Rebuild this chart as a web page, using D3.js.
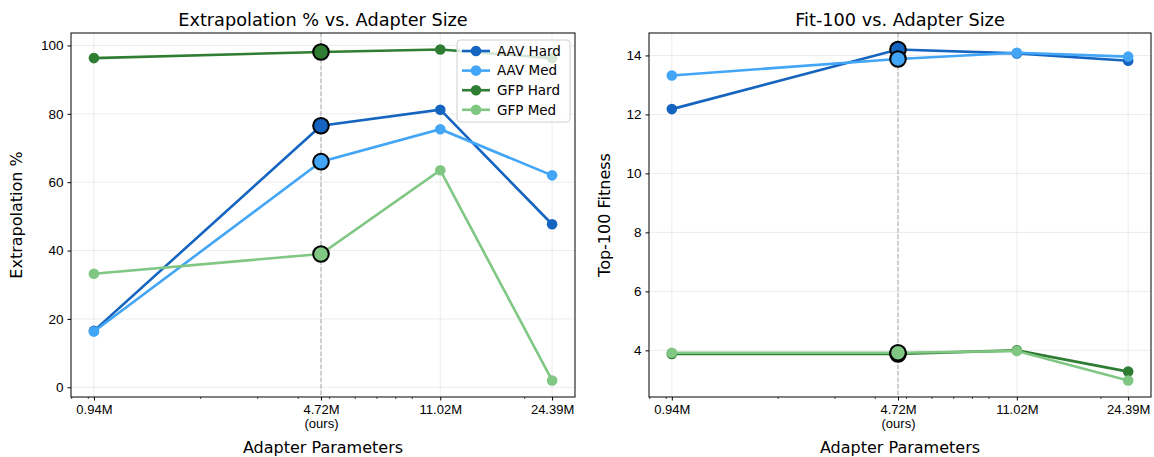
<!DOCTYPE html>
<html>
<head>
<meta charset="utf-8">
<script src="https://cdn.jsdelivr.net/npm/d3@7"></script>
<style>
  body { margin: 0; background: #fff; }
  svg { font-family: "DejaVu Sans", sans-serif; }
  .tick text { fill: #000; }
</style>
</head>
<body>
<script>
// adapter sizes (millions of params)
var sizes = [0.94, 4.72, 11.02, 24.39];
var sizeLabels = ["0.94M", "4.72M", "11.02M", "24.39M"];
var oursIndex = 1;

var seriesNames = ["AAV Hard", "AAV Med", "GFP Hard", "GFP Med"];
var seriesColors = ["#1565c0", "#42a5f5", "#2e7d32", "#81c784"];

// Extrapolation %
var extrapAAVHard = [16.5, 76.5, 81.2, 47.7];
var extrapAAVMed  = [16.3, 66.0, 75.5, 62.0];
var extrapGFPHard = [96.3, 98.1, 98.8, 96.3];
var extrapGFPMed  = [33.2, 39.0, 63.5, 2.0];

// Top-100 fitness
var fitAAVHard = [12.18, 14.20, 14.07, 13.82];
var fitAAVMed  = [13.32, 13.88, 14.09, 13.96];
var fitGFPHard = [3.88, 3.88, 4.00, 3.28];
var fitGFPMed  = [3.92, 3.92, 3.98, 2.98];

var extrapTicks = [0, 20, 40, 60, 80, 100];
var fitTicks = [4, 6, 8, 10, 12, 14];
var minorTicks = [0.8, 0.9, 2, 3, 4, 5, 6, 7, 8, 9, 20];

var W = 1154, H = 457, plotTop = 33, plotBottom = 397;

var svg = d3.select("body").append("svg")
    .attr("width", W)
    .attr("height", H);

function panel(opts) {
  var g = svg.append("g");
  var left = opts.left, right = opts.right;

  var lx0 = Math.log10(sizes[0]), lx1 = Math.log10(sizes[sizes.length - 1]);
  var mx = (lx1 - lx0) * 0.05;
  var x = d3.scaleLog()
      .domain([Math.pow(10, lx0 - mx), Math.pow(10, lx1 + mx)])
      .range([left, right]);

  var all = d3.merge(opts.series);
  var ymin = d3.min(all), ymax = d3.max(all), my = (ymax - ymin) * 0.05;
  var y = d3.scaleLinear()
      .domain([ymin - my, ymax + my])
      .range([plotBottom, plotTop]);

  // grid
  g.append("g").selectAll("line").data(opts.yticks).enter().append("line")
      .attr("x1", left).attr("x2", right)
      .attr("y1", function(d){ return y(d); }).attr("y2", function(d){ return y(d); })
      .attr("stroke", "#b0b0b0").attr("stroke-opacity", 0.3).attr("stroke-width", 0.8);
  g.append("g").selectAll("line").data(sizes).enter().append("line")
      .attr("y1", plotTop).attr("y2", plotBottom)
      .attr("x1", function(d){ return x(d); }).attr("x2", function(d){ return x(d); })
      .attr("stroke", "#b0b0b0").attr("stroke-opacity", 0.3).attr("stroke-width", 0.8);

  // "ours" marker line
  g.append("line")
      .attr("x1", x(sizes[oursIndex])).attr("x2", x(sizes[oursIndex]))
      .attr("y1", plotTop).attr("y2", plotBottom)
      .attr("stroke", "#808080").attr("stroke-opacity", 0.5)
      .attr("stroke-width", 1.2).attr("stroke-dasharray", "4.5,2");

  var line = d3.line()
      .x(function(d, i){ return x(sizes[i]); })
      .y(function(d){ return y(d); });

  opts.series.forEach(function(s, k) {
    g.append("path")
        .datum(s)
        .attr("d", line)
        .attr("fill", "none")
        .attr("stroke", seriesColors[k])
        .attr("stroke-width", 2.6);
    g.append("g").selectAll("circle").data(s).enter().append("circle")
        .attr("cx", function(d, i){ return x(sizes[i]); })
        .attr("cy", function(d){ return y(d); })
        .attr("r", 5.3)
        .attr("fill", seriesColors[k]);
  });
  // highlighted "ours" points
  opts.series.forEach(function(s, k) {
    g.append("circle")
        .attr("cx", x(sizes[oursIndex]))
        .attr("cy", y(s[oursIndex]))
        .attr("r", 7.8)
        .attr("fill", seriesColors[k])
        .attr("stroke", "#000")
        .attr("stroke-width", 2);
  });

  // axes
  var xAxis = g.append("g")
      .attr("transform", "translate(0," + plotBottom + ")")
      .call(d3.axisBottom(x).tickValues(sizes).tickSizeOuter(0).tickSize(3.5).tickPadding(4.5)
        .tickFormat(function(d, i){ return sizeLabels[i]; }));
  xAxis.select(".domain").remove();
  xAxis.selectAll("text").style("font-size", "13px");
  xAxis.selectAll(".tick").filter(function(d, i){ return i === oursIndex; })
    .append("text")
      .attr("y", 22).attr("dy", "0.71em")
      .attr("fill", "#000")
      .attr("text-anchor", "middle")
      .style("font-size", "13px")
      .text("(ours)");

  var minor = g.append("g")
      .attr("transform", "translate(0," + plotBottom + ")")
      .call(d3.axisBottom(x).tickValues(minorTicks).tickSize(2).tickFormat(""));
  minor.select(".domain").remove();
  minor.selectAll("line").attr("stroke-width", 0.7);

  var yAxis = g.append("g")
      .attr("transform", "translate(" + left + ",0)")
      .call(d3.axisLeft(y).tickValues(opts.yticks).tickSize(3.5).tickPadding(4));
  yAxis.select(".domain").remove();
  yAxis.selectAll("text").style("font-size", "13.5px");

  // frame
  g.append("rect")
      .attr("x", left).attr("y", plotTop)
      .attr("width", right - left).attr("height", plotBottom - plotTop)
      .attr("fill", "none").attr("stroke", "#000").attr("stroke-width", 1);

  // titles
  g.append("text")
      .attr("x", (left + right) / 2).attr("y", 26)
      .attr("text-anchor", "middle")
      .style("font-size", "17.7px")
      .text(opts.title);
  g.append("text")
      .attr("x", (left + right) / 2).attr("y", 453)
      .attr("text-anchor", "middle")
      .style("font-size", "16px")
      .text("Adapter Parameters");
  g.append("text")
      .attr("transform", "translate(" + opts.ylabelX + "," + ((plotTop + plotBottom) / 2) + ") rotate(-90)")
      .attr("text-anchor", "middle")
      .style("font-size", "16px")
      .text(opts.ylabel);

  return g;
}

var leftPanel = panel({
  left: 71, right: 575,
  series: [extrapAAVHard, extrapAAVMed, extrapGFPHard, extrapGFPMed],
  yticks: extrapTicks,
  title: "Extrapolation % vs. Adapter Size",
  ylabel: "Extrapolation %",
  ylabelX: 22
});

panel({
  left: 649, right: 1151,
  series: [fitAAVHard, fitAAVMed, fitGFPHard, fitGFPMed],
  yticks: fitTicks,
  title: "Fit-100 vs. Adapter Size",
  ylabel: "Top-100 Fitness",
  ylabelX: 610
});

// legend (left panel, upper right)
var lg = leftPanel.append("g").attr("transform", "translate(457,40)");
lg.append("rect")
    .attr("width", 113).attr("height", 82)
    .attr("rx", 3)
    .attr("fill", "#fff").attr("fill-opacity", 0.8)
    .attr("stroke", "#d0d0d0").attr("stroke-width", 1);
var item = lg.selectAll("g.item").data(seriesNames).enter().append("g")
    .attr("class", "item")
    .attr("transform", function(d, i){ return "translate(0," + (11 + i * 19.6) + ")"; });
item.append("line")
    .attr("x1", 5).attr("x2", 33)
    .attr("stroke", function(d, i){ return seriesColors[i]; })
    .attr("stroke-width", 2.6);
item.append("circle")
    .attr("cx", 19).attr("r", 5.3)
    .attr("fill", function(d, i){ return seriesColors[i]; });
item.append("text")
    .attr("x", 40).attr("dy", "0.35em")
    .style("font-size", "13.5px")
    .text(function(d){ return d; });
</script>
</body>
</html>
